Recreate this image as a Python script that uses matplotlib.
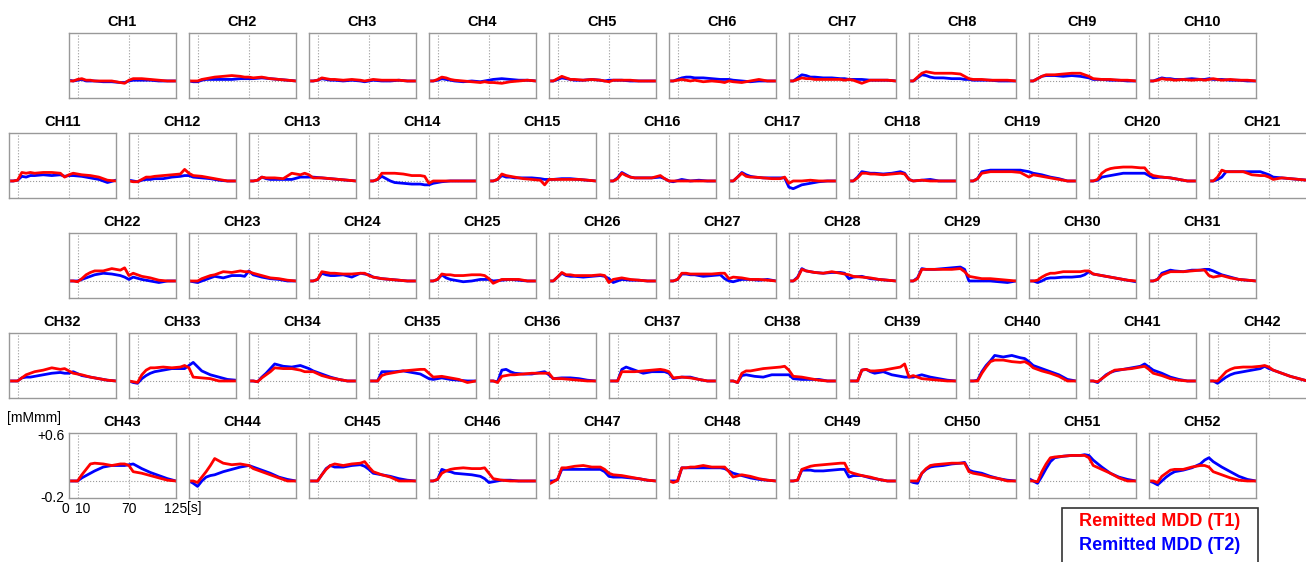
import matplotlib
matplotlib.use("Agg")
import matplotlib.pyplot as plt
from matplotlib.patches import Rectangle
from matplotlib.transforms import ScaledTranslation

plt.rcParams['font.family'] = ['Liberation Sans', 'DejaVu Sans']

# time grid in seconds (task 10-70 s)
t = [0, 5, 10, 15, 20, 25, 30, 40, 50, 60, 65, 70, 75, 85, 95, 105, 115, 125]

# oxy-Hb change [mM mm], Remitted MDD (T1), CH1..CH52
t1 = [
    [0, 0, 0.02, 0.03, 0.01, 0.01, 0.0, 0.0, 0.0, -0.02, -0.03, 0.01, 0.03, 0.03, 0.02, 0.01, 0.0, 0.0],
    [0, 0, 0.0, 0.02, 0.03, 0.04, 0.05, 0.06, 0.07, 0.06, 0.05, 0.05, 0.04, 0.05, 0.03, 0.02, 0.01, 0.0],
    [0, 0, 0.01, 0.04, 0.03, 0.02, 0.02, 0.01, 0.02, 0.01, 0.0, 0.01, 0.02, 0.01, 0.01, 0.01, 0.0, 0.0],
    [0, 0, 0.02, 0.05, 0.04, 0.02, 0.01, 0.0, -0.01, -0.02, -0.01, -0.02, -0.02, -0.03, -0.01, 0.0, 0.01, 0.0],
    [0, 0, 0.03, 0.06, 0.04, 0.02, 0.02, 0.01, 0.02, 0.01, 0.0, -0.01, 0.01, 0.01, 0.01, 0.0, 0.0, 0.0],
    [0, 0, 0.01, 0.02, 0.01, 0.0, 0.01, -0.01, 0.0, -0.01, -0.02, 0.0, -0.01, -0.02, 0.0, 0.02, 0.0, 0.0],
    [0, 0, 0.02, 0.04, 0.03, 0.03, 0.02, 0.02, 0.02, 0.02, 0.01, 0.02, 0.01, -0.03, 0.01, 0.01, 0.01, 0.0],
    [0, 0, 0.05, 0.1, 0.12, 0.11, 0.1, 0.1, 0.1, 0.09, 0.06, 0.03, 0.02, 0.02, 0.01, 0.01, 0.01, 0.0],
    [0, 0, 0.03, 0.06, 0.08, 0.08, 0.08, 0.09, 0.1, 0.1, 0.08, 0.06, 0.03, 0.02, 0.02, 0.01, 0.01, 0.0],
    [0, 0, 0.01, 0.03, 0.02, 0.02, 0.01, 0.02, 0.01, 0.02, 0.01, 0.02, 0.03, 0.01, 0.02, 0.01, 0.01, 0.0],
    [0, 0, 0.01, 0.11, 0.1, 0.11, 0.1, 0.11, 0.11, 0.1, 0.05, 0.08, 0.1, 0.08, 0.07, 0.05, 0.01, 0.0],
    [0, -0.01, -0.01, 0.02, 0.05, 0.05, 0.06, 0.07, 0.08, 0.09, 0.15, 0.1, 0.07, 0.06, 0.04, 0.02, 0.0, 0.0],
    [0, 0, 0.01, 0.05, 0.04, 0.04, 0.04, 0.03, 0.1, 0.08, 0.1, 0.08, 0.04, 0.04, 0.03, 0.02, 0.01, 0.0],
    [0, 0, 0.02, 0.1, 0.1, 0.1, 0.1, 0.09, 0.07, 0.07, 0.06, -0.03, 0.0, 0.0, 0.0, 0.0, 0.0, 0.0],
    [0, 0, 0.02, 0.09, 0.07, 0.06, 0.05, 0.03, 0.02, 0.01, -0.05, 0.02, 0.02, 0.02, 0.02, 0.02, 0.01, 0.0],
    [0, 0, 0.03, 0.1, 0.07, 0.05, 0.04, 0.04, 0.04, 0.07, 0.03, 0.0, 0.0, 0.0, 0.0, 0.0, 0.0, 0.0],
    [0, 0, 0.05, 0.1, 0.06, 0.05, 0.05, 0.04, 0.03, 0.03, 0.05, -0.03, 0.0, 0.0, 0.01, 0.0, 0.0, 0.0],
    [0, 0, 0.04, 0.1, 0.1, 0.09, 0.09, 0.08, 0.09, 0.1, 0.09, 0.02, 0.0, 0.01, 0.0, 0.0, 0.0, 0.0],
    [0, 0, 0.03, 0.1, 0.11, 0.12, 0.12, 0.12, 0.12, 0.11, 0.08, 0.05, 0.08, 0.06, 0.04, 0.02, 0.0, 0.0],
    [0, 0, 0.02, 0.1, 0.14, 0.16, 0.17, 0.18, 0.18, 0.17, 0.17, 0.1, 0.07, 0.05, 0.04, 0.02, 0.0, 0.0],
    [0, 0, 0.05, 0.14, 0.12, 0.12, 0.12, 0.12, 0.08, 0.07, 0.07, 0.05, 0.02, 0.04, 0.03, 0.02, 0.01, 0.0],
    [0, 0, -0.01, 0.03, 0.08, 0.11, 0.13, 0.13, 0.16, 0.14, 0.17, 0.07, 0.1, 0.06, 0.04, 0.01, 0.0, 0.0],
    [0, 0, 0.0, 0.03, 0.05, 0.07, 0.08, 0.12, 0.11, 0.13, 0.12, 0.12, 0.1, 0.07, 0.04, 0.03, 0.01, 0.0],
    [0, 0, 0.02, 0.12, 0.11, 0.1, 0.1, 0.09, 0.09, 0.1, 0.1, 0.07, 0.05, 0.03, 0.02, 0.01, 0.0, 0.0],
    [0, 0, 0.02, 0.09, 0.08, 0.08, 0.07, 0.07, 0.08, 0.08, 0.07, 0.03, -0.03, 0.02, 0.02, 0.02, 0.0, 0.0],
    [0, 0, 0.05, 0.11, 0.08, 0.08, 0.07, 0.07, 0.07, 0.08, 0.07, -0.02, 0.02, 0.04, 0.02, 0.01, 0.0, 0.0],
    [0, 0, 0.02, 0.1, 0.1, 0.09, 0.09, 0.09, 0.09, 0.1, 0.1, 0.03, 0.05, 0.04, 0.02, 0.02, 0.01, 0.0],
    [0, 0, 0.04, 0.15, 0.13, 0.12, 0.11, 0.1, 0.12, 0.1, 0.09, 0.08, 0.06, 0.05, 0.04, 0.02, 0.01, 0.0],
    [0, 0, 0.03, 0.15, 0.15, 0.15, 0.15, 0.15, 0.15, 0.16, 0.12, 0.06, 0.05, 0.03, 0.03, 0.02, 0.01, 0.0],
    [0, 0, 0.01, 0.05, 0.08, 0.1, 0.1, 0.12, 0.12, 0.12, 0.13, 0.13, 0.09, 0.07, 0.05, 0.03, 0.01, 0.0],
    [0, 0, 0.02, 0.08, 0.1, 0.12, 0.12, 0.12, 0.13, 0.14, 0.14, 0.07, 0.05, 0.07, 0.04, 0.02, 0.01, 0.0],
    [0, 0, 0.0, 0.04, 0.08, 0.1, 0.12, 0.14, 0.17, 0.15, 0.16, 0.13, 0.1, 0.08, 0.05, 0.03, 0.01, 0.0],
    [0, -0.01, -0.02, 0.08, 0.14, 0.17, 0.17, 0.18, 0.17, 0.18, 0.2, 0.17, 0.05, 0.04, 0.03, 0.0, 0.0, 0.0],
    [0, 0, -0.01, 0.04, 0.08, 0.12, 0.17, 0.16, 0.16, 0.14, 0.12, 0.12, 0.12, 0.07, 0.04, 0.02, 0.0, 0.0],
    [0, 0, 0.0, 0.07, 0.09, 0.1, 0.11, 0.13, 0.14, 0.15, 0.15, 0.1, 0.05, 0.06, 0.04, 0.02, -0.02, 0.0],
    [0, 0, -0.02, 0.06, 0.07, 0.08, 0.08, 0.09, 0.1, 0.1, 0.1, 0.1, 0.03, 0.03, 0.02, 0.01, 0.0, 0.0],
    [0, 0, 0.0, 0.12, 0.12, 0.12, 0.12, 0.13, 0.14, 0.15, 0.14, 0.12, 0.04, 0.05, 0.04, 0.02, 0.0, 0.0],
    [0, 0, -0.02, 0.1, 0.13, 0.13, 0.14, 0.16, 0.17, 0.18, 0.19, 0.14, 0.06, 0.05, 0.03, 0.01, 0.0, 0.0],
    [0, 0, 0.0, 0.14, 0.15, 0.13, 0.13, 0.14, 0.16, 0.18, 0.22, 0.05, 0.07, 0.03, 0.02, 0.01, 0.0, 0.0],
    [0, 0, 0.0, 0.1, 0.18, 0.25, 0.27, 0.27, 0.25, 0.24, 0.25, 0.22, 0.17, 0.13, 0.1, 0.06, 0.0, 0.0],
    [0, 0, -0.01, 0.03, 0.07, 0.11, 0.14, 0.15, 0.16, 0.18, 0.19, 0.15, 0.1, 0.07, 0.03, 0.01, 0.0, 0.0],
    [0, 0, 0.0, 0.06, 0.12, 0.15, 0.17, 0.18, 0.18, 0.19, 0.2, 0.18, 0.14, 0.1, 0.06, 0.03, 0.0, -0.02],
    [0, 0, 0.0, 0.08, 0.15, 0.22, 0.23, 0.22, 0.2, 0.22, 0.22, 0.2, 0.12, 0.1, 0.07, 0.04, 0.01, 0.0],
    [0, 0, -0.02, 0.05, 0.12, 0.2, 0.29, 0.23, 0.21, 0.22, 0.21, 0.2, 0.16, 0.12, 0.08, 0.04, 0.0, 0.0],
    [0, 0, 0.0, 0.08, 0.15, 0.2, 0.22, 0.2, 0.22, 0.23, 0.25, 0.18, 0.12, 0.08, 0.05, 0.0, 0.0, 0.0],
    [0, 0, 0.02, 0.1, 0.13, 0.15, 0.16, 0.17, 0.16, 0.16, 0.17, 0.1, 0.03, 0.01, 0.0, 0.0, 0.0, 0.0],
    [-0.04, -0.01, 0.02, 0.17, 0.17, 0.18, 0.19, 0.2, 0.18, 0.18, 0.15, 0.1, 0.08, 0.07, 0.05, 0.03, 0.01, 0.0],
    [0, -0.02, 0.0, 0.17, 0.17, 0.18, 0.18, 0.2, 0.18, 0.18, 0.18, 0.12, 0.05, 0.08, 0.06, 0.03, 0.01, 0.0],
    [0, 0, 0.01, 0.15, 0.17, 0.19, 0.2, 0.21, 0.22, 0.23, 0.23, 0.12, 0.1, 0.07, 0.05, 0.02, 0.0, 0.0],
    [0, 0, 0.0, 0.1, 0.16, 0.2, 0.21, 0.22, 0.23, 0.23, 0.23, 0.12, 0.1, 0.08, 0.05, 0.03, 0.0, 0.0],
    [0, 0, -0.01, 0.12, 0.22, 0.3, 0.31, 0.32, 0.33, 0.33, 0.33, 0.3, 0.2, 0.15, 0.1, 0.04, 0.0, 0.0],
    [0, 0, -0.02, 0.06, 0.1, 0.14, 0.15, 0.15, 0.18, 0.2, 0.2, 0.18, 0.12, 0.08, 0.04, 0.01, 0.0, 0.0],
]

# Remitted MDD (T2), CH1..CH52
t2 = [
    [0.01, 0, 0.01, 0.02, 0.0, 0.0, 0.0, -0.01, -0.01, -0.02, -0.02, 0.0, 0.01, 0.01, 0.01, 0.0, 0.0, 0.0],
    [0.0, -0.01, -0.01, 0.01, 0.02, 0.02, 0.02, 0.02, 0.02, 0.03, 0.03, 0.03, 0.03, 0.04, 0.03, 0.02, 0.01, 0.0],
    [0, 0, 0.01, 0.03, 0.02, 0.01, 0.01, 0.0, 0.01, 0.0, -0.01, 0.0, 0.01, 0.0, 0.0, 0.01, 0.0, 0.0],
    [0, 0, 0.01, 0.03, 0.02, 0.01, 0.0, -0.01, 0.0, -0.01, 0.0, 0.01, 0.02, 0.03, 0.02, 0.01, 0.01, 0.0],
    [0, 0, 0.02, 0.04, 0.03, 0.02, 0.01, 0.01, 0.02, 0.01, 0.0, 0.01, 0.01, 0.01, 0.0, 0.0, 0.0, 0.0],
    [0, 0, 0.02, 0.04, 0.05, 0.05, 0.04, 0.04, 0.03, 0.02, 0.02, 0.02, 0.01, 0.0, -0.01, 0.0, 0.0, 0.0],
    [0, 0, 0.04, 0.08, 0.07, 0.05, 0.05, 0.04, 0.04, 0.03, 0.03, 0.02, 0.02, 0.02, 0.01, 0.01, 0.01, 0.0],
    [0, 0, 0.04, 0.08, 0.07, 0.05, 0.04, 0.04, 0.03, 0.03, 0.02, 0.02, 0.01, 0.01, 0.01, 0.0, 0.0, 0.0],
    [0, 0, 0.03, 0.06, 0.07, 0.07, 0.07, 0.06, 0.07, 0.06, 0.05, 0.04, 0.02, 0.02, 0.01, 0.01, 0.0, 0.0],
    [0, 0, 0.02, 0.04, 0.03, 0.03, 0.02, 0.02, 0.03, 0.02, 0.02, 0.03, 0.02, 0.02, 0.01, 0.01, 0.0, 0.0],
    [0, 0, 0.01, 0.06, 0.05, 0.07, 0.07, 0.08, 0.07, 0.08, 0.06, 0.07, 0.07, 0.06, 0.04, 0.02, -0.02, 0.01],
    [0.01, 0.0, -0.01, 0.01, 0.02, 0.02, 0.03, 0.03, 0.05, 0.06, 0.07, 0.07, 0.05, 0.04, 0.03, 0.01, 0.0, 0.0],
    [0, 0, 0.01, 0.05, 0.03, 0.02, 0.02, 0.02, 0.02, 0.05, 0.05, 0.05, 0.05, 0.04, 0.03, 0.02, 0.01, 0.0],
    [0, 0, 0.02, 0.06, 0.03, 0.0, -0.02, -0.03, -0.04, -0.04, -0.05, -0.05, -0.03, -0.01, 0.0, 0.0, 0.0, 0.0],
    [0, 0, 0.02, 0.07, 0.05, 0.05, 0.04, 0.04, 0.04, 0.03, 0.02, 0.02, 0.02, 0.03, 0.03, 0.02, 0.01, 0.0],
    [0, 0, 0.04, 0.11, 0.08, 0.05, 0.04, 0.04, 0.04, 0.05, 0.03, 0.0, -0.01, 0.02, 0.0, 0.01, 0.0, 0.0],
    [0, 0, 0.05, 0.11, 0.08, 0.06, 0.05, 0.04, 0.04, 0.04, 0.04, -0.08, -0.1, -0.05, -0.03, -0.01, 0.0, 0.0],
    [0, 0, 0.05, 0.12, 0.11, 0.1, 0.1, 0.09, 0.1, 0.12, 0.1, 0.02, 0.0, 0.01, 0.02, 0.0, 0.0, 0.0],
    [0, 0, 0.03, 0.12, 0.13, 0.14, 0.14, 0.14, 0.14, 0.14, 0.13, 0.12, 0.1, 0.08, 0.05, 0.03, 0.0, 0.0],
    [0, 0, 0.01, 0.05, 0.06, 0.07, 0.08, 0.1, 0.1, 0.1, 0.1, 0.07, 0.04, 0.05, 0.04, 0.02, 0.0, 0.0],
    [0, 0, 0.02, 0.05, 0.12, 0.12, 0.12, 0.12, 0.12, 0.12, 0.1, 0.08, 0.05, 0.04, 0.03, 0.02, 0.01, 0.0],
    [0, 0, 0.0, 0.02, 0.04, 0.06, 0.08, 0.1, 0.09, 0.07, 0.05, 0.02, 0.05, 0.02, 0.0, -0.02, 0.0, 0.0],
    [0, -0.01, -0.02, 0.0, 0.02, 0.04, 0.06, 0.04, 0.07, 0.07, 0.06, 0.13, 0.08, 0.05, 0.03, 0.02, 0.0, 0.0],
    [0, 0, 0.02, 0.1, 0.08, 0.07, 0.07, 0.08, 0.05, 0.1, 0.09, 0.08, 0.05, 0.03, 0.02, 0.01, 0.0, 0.0],
    [0, 0, 0.02, 0.08, 0.04, 0.02, 0.01, -0.01, 0.0, 0.02, 0.02, 0.02, 0.0, 0.01, 0.02, 0.01, 0.0, 0.0],
    [0, 0, 0.05, 0.1, 0.07, 0.06, 0.06, 0.05, 0.06, 0.07, 0.06, 0.03, -0.02, 0.02, 0.01, 0.01, 0.0, 0.0],
    [0, 0, 0.02, 0.09, 0.09, 0.08, 0.08, 0.06, 0.07, 0.08, 0.03, 0.0, -0.01, 0.02, 0.02, 0.01, 0.02, 0.0],
    [0, 0, 0.05, 0.16, 0.13, 0.12, 0.11, 0.1, 0.11, 0.11, 0.1, 0.03, 0.05, 0.06, 0.03, 0.02, 0.01, 0.0],
    [0, 0, 0.04, 0.16, 0.15, 0.15, 0.15, 0.16, 0.17, 0.18, 0.15, 0.0, 0.0, 0.0, 0.0, -0.01, -0.02, 0.0],
    [0, 0, -0.02, 0.0, 0.03, 0.04, 0.04, 0.05, 0.05, 0.06, 0.08, 0.12, 0.09, 0.07, 0.05, 0.03, 0.01, -0.01],
    [0, 0, 0.02, 0.1, 0.12, 0.14, 0.13, 0.12, 0.14, 0.14, 0.15, 0.15, 0.13, 0.08, 0.05, 0.02, 0.01, 0.0],
    [0, 0, 0.0, 0.04, 0.05, 0.05, 0.06, 0.08, 0.1, 0.11, 0.1, 0.1, 0.12, 0.07, 0.05, 0.03, 0.01, 0.0],
    [0, -0.02, -0.03, 0.03, 0.07, 0.1, 0.12, 0.14, 0.16, 0.16, 0.16, 0.2, 0.24, 0.13, 0.08, 0.05, 0.02, 0.01],
    [0, 0, -0.01, 0.05, 0.1, 0.16, 0.22, 0.19, 0.18, 0.2, 0.18, 0.16, 0.13, 0.09, 0.05, 0.02, 0.0, 0.0],
    [0, 0, 0.0, 0.12, 0.12, 0.12, 0.12, 0.13, 0.11, 0.09, 0.06, 0.03, 0.02, 0.04, 0.02, 0.01, 0.0, 0.0],
    [0, 0, -0.01, 0.14, 0.15, 0.12, 0.1, 0.09, 0.09, 0.11, 0.12, 0.08, 0.03, 0.04, 0.04, 0.03, 0.01, 0.0],
    [0, 0, 0.0, 0.15, 0.18, 0.16, 0.14, 0.1, 0.12, 0.12, 0.12, 0.1, 0.03, 0.05, 0.05, 0.02, 0.0, 0.0],
    [0, 0, -0.02, 0.07, 0.08, 0.07, 0.06, 0.05, 0.08, 0.08, 0.08, 0.08, 0.03, 0.02, 0.02, 0.02, 0.0, 0.0],
    [0, 0, 0.0, 0.14, 0.15, 0.12, 0.1, 0.12, 0.08, 0.06, 0.05, 0.05, 0.05, 0.08, 0.05, 0.03, 0.01, 0.0],
    [0, 0, 0.01, 0.12, 0.2, 0.26, 0.33, 0.31, 0.33, 0.3, 0.29, 0.25, 0.2, 0.16, 0.12, 0.08, 0.02, 0.0],
    [0, 0, -0.02, 0.03, 0.08, 0.11, 0.13, 0.15, 0.17, 0.19, 0.22, 0.18, 0.14, 0.1, 0.05, 0.02, 0.0, 0.0],
    [0, 0, -0.03, 0.01, 0.05, 0.08, 0.1, 0.12, 0.14, 0.16, 0.19, 0.16, 0.14, 0.1, 0.06, 0.03, 0.0, -0.02],
    [0, 0, 0.0, 0.04, 0.07, 0.1, 0.13, 0.18, 0.2, 0.2, 0.2, 0.21, 0.22, 0.16, 0.11, 0.07, 0.03, 0.0],
    [0, -0.03, -0.07, 0.0, 0.05, 0.07, 0.08, 0.12, 0.15, 0.18, 0.19, 0.2, 0.18, 0.14, 0.1, 0.05, 0.02, 0.0],
    [0, 0, 0.0, 0.08, 0.16, 0.2, 0.18, 0.18, 0.2, 0.21, 0.19, 0.15, 0.1, 0.08, 0.06, 0.03, 0.01, 0.0],
    [0, 0, 0.02, 0.15, 0.13, 0.12, 0.1, 0.09, 0.08, 0.06, 0.03, -0.02, -0.01, 0.01, 0.01, 0.0, 0.0, 0.0],
    [0, 0, 0.02, 0.15, 0.15, 0.15, 0.15, 0.15, 0.15, 0.15, 0.12, 0.06, 0.05, 0.05, 0.04, 0.03, 0.01, 0.0],
    [0, 0, 0.0, 0.17, 0.17, 0.17, 0.17, 0.17, 0.17, 0.17, 0.16, 0.13, 0.1, 0.07, 0.04, 0.02, 0.01, 0.0],
    [0, 0, 0.01, 0.14, 0.14, 0.14, 0.13, 0.13, 0.14, 0.15, 0.15, 0.05, 0.07, 0.07, 0.04, 0.02, 0.0, 0.0],
    [0, -0.02, -0.03, 0.1, 0.15, 0.18, 0.19, 0.2, 0.22, 0.23, 0.24, 0.14, 0.12, 0.1, 0.06, 0.03, 0.01, 0.0],
    [0.03, 0.0, -0.03, 0.06, 0.16, 0.25, 0.3, 0.32, 0.33, 0.33, 0.34, 0.33, 0.27, 0.18, 0.1, 0.05, 0.02, 0.0],
    [0, -0.02, -0.05, 0.0, 0.05, 0.09, 0.12, 0.14, 0.17, 0.22, 0.27, 0.3, 0.25, 0.18, 0.12, 0.06, 0.02, 0.0],
]

W, H = 1306, 562
fig = plt.figure(figsize=(13.06, 5.62), dpi=100)

# (first channel, last channel, left px, top px) for each row of panels
rows = [(1, 10, 69, 33), (11, 21, 9, 133), (22, 31, 69, 233),
        (32, 42, 9, 333), (43, 52, 69, 433)]
pw, ph, step = 107, 65, 120

for first, last, x0, y0 in rows:
    for i, ch in enumerate(range(first, last + 1)):
        left = x0 + i * step
        ax = fig.add_axes([left / W, 1 - (y0 + ph) / H, pw / W, ph / H])
        ax.plot(t, t2[ch - 1], color='#0000ff', lw=2.0, solid_joinstyle='round')
        ax.plot(t, t1[ch - 1], color='#ff0000', lw=2.0, solid_joinstyle='round')
        for xv in (10, 70):
            ax.axvline(xv, color='#999999', lw=0.8, ls=':', zorder=0)
        ax.axhline(0, color='#999999', lw=0.8, ls=':', zorder=0)
        ax.set_xlim(0, 125)
        ax.set_ylim(-0.22, 0.62)
        for s in ax.spines.values():
            s.set_color('#999999')
            s.set_linewidth(1.0)
        ax.set_title(f'CH{ch}', fontsize=10.5, fontweight='bold', pad=5)
        if ch == 43:
            ax.set_xticks([0, 10, 70, 125], ['0', '10', '70', '125'])
            ax.set_yticks([-0.2, 0.6], ['-0.2', '+0.6'])
            ax.tick_params(length=0, labelsize=10, pad=3)
            # spread "0" and "10" apart so they don't collide
            labels = ax.get_xticklabels()
            labels[0].set_transform(labels[0].get_transform()
                                    + ScaledTranslation(-2.5 / 72, 0, fig.dpi_scale_trans))
            labels[1].set_transform(labels[1].get_transform()
                                    + ScaledTranslation(3.5 / 72, 0, fig.dpi_scale_trans))
            ax.annotate('[s]', xy=(1, 0), xycoords='axes fraction',
                        xytext=(8, -2.5), textcoords='offset points',
                        ha='left', va='top', fontsize=10)
        else:
            ax.set_xticks([])
            ax.set_yticks([])

fig.text(7 / W, 1 - 418 / H, '[mMmm]', fontsize=10, va='center', ha='left')

# legend box
fig.add_artist(Rectangle((1062 / W, -0.05), (1258 - 1062) / W, (1 - 508 / H) + 0.05,
                         transform=fig.transFigure, fill=False, ec='#333333', lw=1.2))
fig.text(1160 / W, 1 - 521 / H, 'Remitted MDD (T1)', color='#ff0000',
         fontsize=13, fontweight='bold', ha='center', va='center')
fig.text(1160 / W, 1 - 546 / H, 'Remitted MDD (T2)', color='#0000ff',
         fontsize=13, fontweight='bold', ha='center', va='center')

fig.savefig('out.png', dpi=100)
